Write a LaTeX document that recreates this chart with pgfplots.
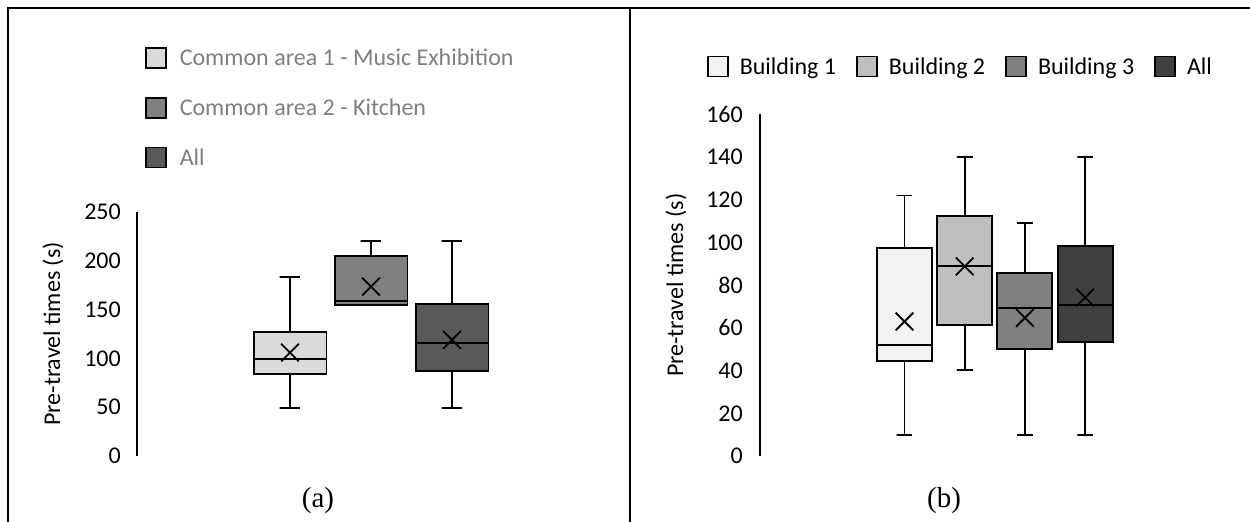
\documentclass[border=0pt]{standalone}
\usepackage{pgfplots}
\pgfplotsset{compat=1.18}
\usepackage{fontspec}
\setmainfont{Carlito}
\newfontfamily\timesf{Liberation Serif}
\definecolor{a1}{HTML}{D9D9D9}
\definecolor{a2}{HTML}{808080}
\definecolor{a3}{HTML}{595959}
\definecolor{b1}{HTML}{F2F2F2}
\definecolor{b2}{HTML}{BFBFBF}
\definecolor{b3}{HTML}{808080}
\definecolor{b4}{HTML}{404040}
\definecolor{lgray}{HTML}{7F7F7F}
\newcommand{\fs}{\fontsize{24bp}{28bp}\selectfont}
\pgfplotsset{
  wh/.style={forget plot, draw=black, line width=1.9bp, mark=none},
  bx/.style={forget plot, draw=black, line width=1.9bp, mark=none, line join=miter, fill=#1},
}
\begin{document}
\begin{tikzpicture}
\useasboundingbox (0,0) rectangle (1250bp,522bp);
% frame
\draw[line width=2bp] (8bp,0bp) -- (8bp,513.5bp) -- (1250bp,513.5bp);
\draw[line width=2bp] (629.5bp,0bp) -- (629.5bp,513.5bp);

% ---------- panel (a) ----------
\begin{axis}[
  at={(137bp,66bp)}, anchor=south west,
  scale only axis, width=436.5bp, height=244bp,
  clip=false,
  xmin=-0.889, xmax=4.5, ymin=0, ymax=250,
  axis lines*=left,
  x axis line style={draw=none},
  y axis line style={line width=2.4bp, black},
  major tick length=0pt,
  xtick=\empty, ytick={0,50,...,250},
  /pgf/number format/assume math mode=true,
  tick label style={font=\fs},
  yticklabel style={anchor=east, inner sep=0pt, xshift=-16bp},
  ylabel={Pre-travel times (s)},
  every axis y label/.style={at={(axis description cs:-0.1924,0.5)}, rotate=90, anchor=center, font=\fs},
  legend cell align=left,
  legend image code/.code={\draw[#1, draw=black, line width=1.8bp] (0bp,-10bp) rectangle (20bp,10bp);},
  legend style={at={(axis description cs:0.01833,1.6762)}, anchor=north west, draw=none, fill=none,
    inner sep=0pt, outer sep=0pt, row sep=28bp,
    nodes={inner sep=0pt, text height=16bp, text depth=0pt, font=\fs, text=lgray},
    /tikz/every odd column/.append style={column sep=13bp}},
]
% box 1
\addplot[wh] coordinates {(1,127) (1,183) (0.8725,183) (1.1275,183)};
\addplot[wh] coordinates {(1,84) (1,49) (0.8725,49) (1.1275,49)};
\addplot[bx=a1] coordinates {(0.55,84) (1.45,84) (1.45,127) (0.55,127)} -- cycle;
\addplot[wh] coordinates {(0.55,99) (1.45,99)};
% box 2
\addplot[wh] coordinates {(2,204.5) (2,220) (1.8725,220) (2.1275,220)};
\addplot[bx=a2] coordinates {(1.55,155) (2.45,155) (2.45,204.5) (1.55,204.5)} -- cycle;
\addplot[wh] coordinates {(1.55,158.5) (2.45,158.5)};
% box 3
\addplot[wh] coordinates {(3,155.5) (3,220) (2.8725,220) (3.1275,220)};
\addplot[wh] coordinates {(3,87) (3,49) (2.8725,49) (3.1275,49)};
\addplot[bx=a3] coordinates {(2.55,87) (3.45,87) (3.45,155.5) (2.55,155.5)} -- cycle;
\addplot[wh] coordinates {(2.55,116) (3.45,116)};
% means
\addplot[forget plot, only marks, mark=x, mark size=12.5bp, mark options={line width=1.8bp, draw=black}]
  coordinates {(1,106) (2,173.5) (3,119)};
\addlegendimage{fill=a1}
\addlegendentry{Common area 1 - Music Exhibition}
\addlegendimage{fill=a2}
\addlegendentry{Common area 2 - Kitchen}
\addlegendimage{fill=a3}
\addlegendentry{All}
\end{axis}

% ---------- panel (b) ----------
\begin{axis}[
  at={(760bp,66bp)}, anchor=south west,
  scale only axis, width=385.3bp, height=341.6bp,
  clip=false,
  xmin=-1.40, xmax=5, ymin=0, ymax=160,
  axis lines*=left,
  x axis line style={draw=none},
  y axis line style={line width=2.4bp, black},
  major tick length=0pt,
  xtick=\empty, ytick={0,20,...,160},
  /pgf/number format/assume math mode=true,
  tick label style={font=\fs},
  yticklabel style={anchor=east, inner sep=0pt, xshift=-17bp},
  ylabel={Pre-travel times (s)},
  every axis y label/.style={at={(axis description cs:-0.218,0.5)}, rotate=90, anchor=center, font=\fs},
  legend cell align=left,
  legend columns=4,
  legend image code/.code={\draw[#1, draw=black, line width=1.8bp] (0bp,-10bp) rectangle (20bp,10bp);},
  legend style={at={(axis description cs:-0.13755,1.1724)}, anchor=north west, draw=none, fill=none,
    inner sep=0pt, outer sep=0pt,
    nodes={inner sep=0pt, text height=16bp, text depth=0pt, font=\fs, text=black},
    /tikz/every odd column/.append style={column sep=11bp},
    /tikz/every even column/.append style={column sep=20bp}},
]
% B1
\addplot[wh] coordinates {(1,97.6) (1,122) (0.87,122) (1.13,122)};
\addplot[wh] coordinates {(1,44.3) (1,10) (0.87,10) (1.13,10)};
\addplot[bx=b1] coordinates {(0.543,44.3) (1.457,44.3) (1.457,97.6) (0.543,97.6)} -- cycle;
\addplot[wh] coordinates {(0.543,52) (1.457,52)};
% B2
\addplot[wh] coordinates {(2,112.6) (2,140) (1.87,140) (2.13,140)};
\addplot[wh] coordinates {(2,61.3) (2,40.3) (1.87,40.3) (2.13,40.3)};
\addplot[bx=b2] coordinates {(1.543,61.3) (2.457,61.3) (2.457,112.6) (1.543,112.6)} -- cycle;
\addplot[wh] coordinates {(1.543,89) (2.457,89)};
% B3
\addplot[wh] coordinates {(3,85.7) (3,109.3) (2.87,109.3) (3.13,109.3)};
\addplot[wh] coordinates {(3,50.3) (3,10) (2.87,10) (3.13,10)};
\addplot[bx=b3] coordinates {(2.543,50.3) (3.457,50.3) (3.457,85.7) (2.543,85.7)} -- cycle;
\addplot[wh] coordinates {(2.543,69.3) (3.457,69.3)};
% B4
\addplot[wh] coordinates {(4,98.5) (4,140) (3.87,140) (4.13,140)};
\addplot[wh] coordinates {(4,53.4) (4,10) (3.87,10) (4.13,10)};
\addplot[bx=b4] coordinates {(3.543,53.4) (4.457,53.4) (4.457,98.5) (3.543,98.5)} -- cycle;
\addplot[wh] coordinates {(3.543,70.6) (4.457,70.6)};
% means
\addplot[forget plot, only marks, mark=x, mark size=12.5bp, mark options={line width=1.8bp, draw=black}]
  coordinates {(1,63) (2,88.8) (3,64.7) (4,74.2)};
\addlegendimage{fill=b1}
\addlegendentry{Building 1}
\addlegendimage{fill=b2}
\addlegendentry{Building 2}
\addlegendimage{fill=b3}
\addlegendentry{Building 3}
\addlegendimage{fill=b4}
\addlegendentry{All}
\end{axis}

\node[anchor=base, font=\timesf\fontsize{29bp}{34bp}\selectfont, inner sep=0pt] at (318bp,15bp) {(a)};
\node[anchor=base, font=\timesf\fontsize{29bp}{34bp}\selectfont, inner sep=0pt] at (944bp,15bp) {(b)};
\end{tikzpicture}
\end{document}
